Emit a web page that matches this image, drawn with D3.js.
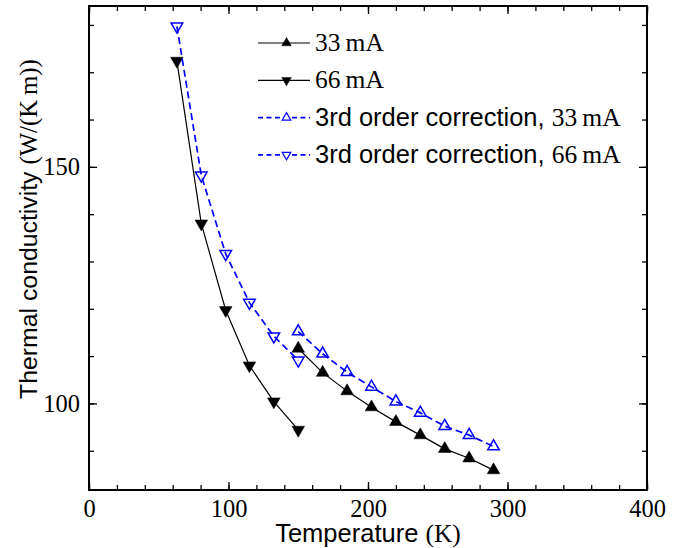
<!DOCTYPE html>
<html>
<head>
<meta charset="utf-8">
<script src="https://cdn.jsdelivr.net/npm/d3@7"></script>
<style>
  body { margin: 0; background: #fff; }
  .serif { font-family: "Liberation Serif", "DejaVu Serif", serif; }
  .sans { font-family: "Liberation Sans", Arial, sans-serif; }
</style>
</head>
<body>
<svg id="chart"></svg>
<script>
// data
const temps66 = [63, 80.5, 98, 115, 132.5, 150];
const k66 = [172.4, 138, 119.7, 108, 100.4, 94.4];
const k66corr = [179.7, 148.2, 131.6, 121.3, 114.2, 109.1];

const temps33 = [150, 167.5, 185, 202.5, 220, 237.5, 255, 272.5, 290];
const k33 = [111.6, 106.5, 102.6, 99.2, 96.1, 93.3, 90.4, 88.4, 85.9];
const k33corr = [115.2, 110.5, 106.6, 103.5, 100.4, 98.0, 95.2, 93.3, 90.9];

const xMajor = [0, 100, 200, 300, 400];
const yMajor = [100, 150];

const seriesNames = ["33\u2009mA", "66\u2009mA", "3rd order correction, ", "3rd order correction, "];
const seriesSuffix = ["", "", "33\u2009mA", "66\u2009mA"];

const width = 692, height = 548;
const margin = { top: 6, right: 45, bottom: 58, left: 89 };

const svg = d3.select("#chart")
    .attr("width", width)
    .attr("height", height);

const x = d3.scaleLinear().domain([0, 400]).range([margin.left, width - margin.right]);
const y = d3.scaleLinear().domain([81.7, 184]).range([height - margin.bottom, margin.top]);

// ticks, inward and mirrored
const xMinor = d3.range(0, 401, 20);
const yMinor = d3.range(90, 184, 10);

function addAxis(axis, transform, labels) {
    const g = svg.append("g").attr("transform", transform).call(axis);
    g.select(".domain").remove();
    g.attr("font-family", "Liberation Serif").attr("font-size", 24.5);
    g.selectAll("line").attr("stroke", "#000").attr("stroke-width", 1.3);
    if (!labels) g.selectAll("text").remove();
    else g.selectAll("text").attr("fill", "#000");
    return g;
}

const bottomY = height - margin.bottom, topY = margin.top;
const leftX = margin.left, rightX = width - margin.right;

addAxis(d3.axisBottom(x).tickValues(xMinor).tickSize(-5).tickFormat(""), `translate(0,${bottomY})`, false);
addAxis(d3.axisTop(x).tickValues(xMinor).tickSize(-5).tickFormat(""), `translate(0,${topY})`, false);
addAxis(d3.axisBottom(x).tickValues(xMajor).tickSize(-8).tickPadding(10).tickFormat(d3.format("d")), `translate(0,${bottomY})`, true);
addAxis(d3.axisTop(x).tickValues(xMajor).tickSize(-8), `translate(0,${topY})`, false);

addAxis(d3.axisLeft(y).tickValues(yMinor).tickSize(-5).tickFormat(""), `translate(${leftX},0)`, false);
addAxis(d3.axisRight(y).tickValues(yMinor).tickSize(-5).tickFormat(""), `translate(${rightX},0)`, false);
addAxis(d3.axisLeft(y).tickValues(yMajor).tickSize(-8).tickPadding(9).tickFormat(d3.format("d")), `translate(${leftX},0)`, true);
addAxis(d3.axisRight(y).tickValues(yMajor).tickSize(-8), `translate(${rightX},0)`, false);

svg.append("rect")
    .attr("x", leftX).attr("y", topY)
    .attr("width", rightX - leftX).attr("height", bottomY - topY)
    .attr("fill", "none").attr("stroke", "#000").attr("stroke-width", 2);

// triangle marker, pgfplots style (inscribed in circle of radius r)
function tri(r, down) {
    const s = down ? -1 : 1;
    const h = r * Math.sqrt(3) / 2;
    return `M0,${-s * r}L${h},${s * r / 2}L${-h},${s * r / 2}Z`;
}

const series = [
    { t: temps33, k: k33, color: "#000", dash: null, down: false, filled: true },
    { t: temps66, k: k66, color: "#000", dash: null, down: true, filled: true },
    { t: temps33, k: k33corr, color: "#0000ff", dash: "7,4", down: false, filled: false },
    { t: temps66, k: k66corr, color: "#0000ff", dash: "7,4", down: true, filled: false }
];

const line = d3.line().x(d => x(d[0])).y(d => y(d[1]));

series.forEach(s => {
    const pts = s.t.map((t, i) => [t, s.k[i]]);
    svg.append("path")
        .datum(pts)
        .attr("d", line)
        .attr("fill", "none")
        .attr("stroke", s.color)
        .attr("stroke-width", s.filled ? 1.2 : 1.7)
        .attr("stroke-dasharray", s.dash);
    svg.append("g").selectAll("path")
        .data(pts)
        .enter()
        .append("path")
        .attr("transform", d => `translate(${x(d[0])},${y(d[1])})`)
        .attr("d", s.filled ? tri(7.3, s.down) : tri(6.7, s.down))
        .attr("fill", s.filled ? s.color : "none")
        .attr("stroke", s.color)
        .attr("stroke-width", s.filled ? 0.5 : 1.5);
});

// legend
const legend = svg.append("g").attr("transform", "translate(258,43)");
series.forEach((s, i) => {
    const row = legend.append("g").attr("transform", `translate(0,${i * 37.3})`);
    row.append("line")
        .attr("x1", 0).attr("x2", 52)
        .attr("stroke", s.color)
        .attr("stroke-width", s.filled ? 1.2 : 1.7)
        .attr("stroke-dasharray", s.filled ? null : "5,3.5");
    row.append("path")
        .attr("transform", "translate(28.5,0)")
        .attr("d", s.filled ? tri(5.5, s.down) : tri(5, s.down))
        .attr("fill", s.filled ? s.color : "#fff")
        .attr("stroke", s.color)
        .attr("stroke-width", s.filled ? 0.5 : 1.2);
    const txt = row.append("text").attr("x", 57).attr("y", 8).attr("font-size", 25.5);
    if (s.filled) {
        txt.append("tspan").attr("class", "serif").text(seriesNames[i]);
    } else {
        txt.append("tspan").attr("class", "sans").text(seriesNames[i]);
        txt.append("tspan").attr("class", "serif").text(seriesSuffix[i]);
    }
});

// axis labels
const xl = svg.append("text")
    .attr("x", (leftX + rightX) / 2).attr("y", 542)
    .attr("text-anchor", "middle").attr("font-size", 25.5);
xl.append("tspan").attr("class", "sans").text("Temperature ");
xl.append("tspan").attr("class", "serif").text("(K)");

const yl = svg.append("text")
    .attr("transform", "translate(37,229) rotate(-90)")
    .attr("text-anchor", "middle").attr("font-size", 24.8);
yl.append("tspan").attr("class", "sans").text("Thermal conductivity ");
yl.append("tspan").attr("class", "serif").text("(W/(K\u2009m))");
</script>
</body>
</html>
